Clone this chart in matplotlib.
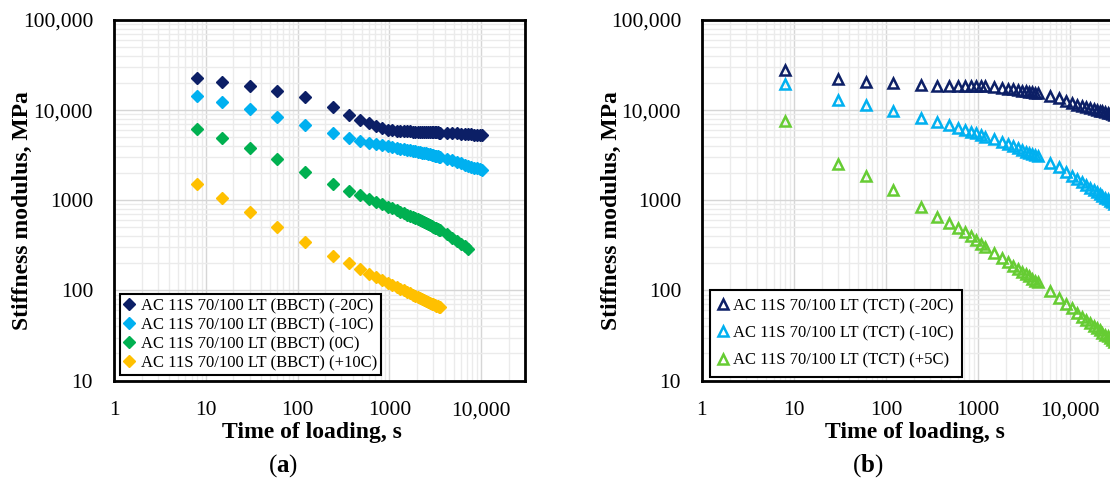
import numpy as np
import matplotlib
matplotlib.use("Agg")
import matplotlib.pyplot as plt
from matplotlib.ticker import FixedLocator, LogLocator, NullFormatter

plt.rcParams['font.family'] = ['Liberation Serif', 'DejaVu Serif']
plt.rcParams['mathtext.fontset'] = 'custom'
plt.rcParams['mathtext.rm'] = 'Liberation Serif'
plt.rcParams['mathtext.bf'] = 'Liberation Serif:bold'

# ---- (a) BBCT data ----
t_bbct = [8, 15, 30, 60, 120, 240, 360, 480, 600, 720, 840, 960, 1080, 1200,
          1320, 1440, 1560, 1680, 1800, 1920, 2040, 2160, 2280, 2400, 2520,
          2640, 2760, 2880, 3000, 3120, 3240, 3360, 3480, 3600, 4200, 4800,
          5400, 6000, 6600, 7200, 7800, 8400, 9000, 9600, 10200]

s_bbct_m20 = [22600, 20600, 18700, 16300, 13900, 10700, 8900, 7800, 7100, 6600,
              6250, 6050, 5950, 5880, 5850, 5820, 5800, 5790, 5780, 5770, 5760,
              5750, 5740, 5730, 5720, 5710, 5700, 5690, 5680, 5670, 5660, 5650,
              5640, 5630, 5600, 5550, 5500, 5460, 5420, 5390, 5360, 5330, 5300,
              5280, 5250]
s_bbct_m10 = [14400, 12300, 10400, 8470, 6850, 5540, 4960, 4590, 4300, 4170,
              4050, 3950, 3870, 3800, 3740, 3680, 3630, 3580, 3540, 3500, 3460,
              3420, 3380, 3340, 3300, 3270, 3230, 3200, 3160, 3130, 3090, 3060,
              3030, 3000, 2880, 2760, 2650, 2560, 2480, 2410, 2350, 2300, 2260,
              2220, 2190]
s_bbct_0 = [6240, 4960, 3780, 2850, 2080, 1520, 1280, 1150, 1030, 960, 900, 850,
            810, 775, 745, 715, 690, 668, 648, 630, 612, 596, 581, 567, 554,
            542, 530, 519, 508, 498, 488, 479, 470, 462, 420, 385, 355, 330,
            308, 290]
s_bbct_p10 = [1500, 1070, 736, 509, 347, 241, 200, 173, 152, 140, 130, 122, 115,
              109, 104, 100, 96, 93, 90, 87, 84.5, 82, 80, 78, 76, 74.5, 73,
              71.5, 70, 69, 67.8, 66.8, 65.8, 65]

labels_bbct = ["AC 11S 70/100 LT (BBCT) (-20C)", "AC 11S 70/100 LT (BBCT) (-10C)",
               "AC 11S 70/100 LT (BBCT) (0C)", "AC 11S 70/100 LT (BBCT) (+10C)"]

# ---- (b) TCT data ----
t_tct = [8, 30, 60, 120, 240, 360, 480, 600, 720, 840, 960, 1080, 1200, 1500,
         1800, 2100, 2400, 2700, 3000, 3300, 3600, 3900, 4200, 4500, 6000, 7500,
         9000, 10500, 12000, 13500, 15000, 16500, 18000, 19500, 21000, 22500,
         24000, 25500, 27000, 28500, 30000]

s_tct_m20 = [27900, 22000, 20700, 19900, 19000, 18500, 18400, 18400, 18400,
             18400, 18350, 18300, 18300, 17900, 17600, 17300, 17000, 16700,
             16400, 16100, 15900, 15700, 15500, 15300, 14400, 13600, 12700,
             12000, 11500, 11100, 10800, 10500, 10250, 10000, 9800, 9650, 9500,
             9350, 9200, 9050, 8900]
s_tct_m10 = [19300, 13000, 11400, 9870, 8130, 7460, 6850, 6400, 6050, 5750, 5500,
             5280, 5080, 4750, 4480, 4230, 4000, 3800, 3620, 3470, 3340, 3230,
             3150, 3080, 2610, 2320, 2080, 1880, 1720, 1590, 1480, 1380, 1300,
             1230, 1170, 1110, 1060, 1020, 980, 945, 910]
s_tct_p5 = [7590, 2510, 1860, 1300, 836, 658, 555, 490, 440, 400, 365, 330, 301,
            258, 228, 205, 188, 174, 161, 151, 143, 135, 128, 123, 99, 82, 71,
            63, 56, 51, 47, 43, 40, 38, 36, 34, 32, 31, 29.5, 28, 27]

labels_tct = ["AC 11S 70/100 LT (TCT) (-20C)", "AC 11S 70/100 LT (TCT) (-10C)",
              "AC 11S 70/100 LT (TCT) (+5C)"]

x_ticks = [1, 10, 100, 1000, 10000]
x_ticklabels = ["1", "10", "100", "1000", "10,000"]
y_ticks = [10, 100, 1000, 10000, 100000]
y_ticklabels = ["10", "100", "1000", "10,000", "100,000"]

navy = "#0c1f66"
sky = "#00b0f0"
green = "#00b050"
gold = "#ffc000"
lime = "#66cc33"


def style_axes(ax):
    ax.set_xscale("log")
    ax.set_yscale("log")
    ax.set_xlim(1, 30000)
    ax.set_ylim(10, 100000)
    ax.xaxis.set_major_locator(FixedLocator(x_ticks))
    ax.set_xticklabels(x_ticklabels)
    ax.yaxis.set_major_locator(FixedLocator(y_ticks))
    ax.set_yticklabels(y_ticklabels)
    ax.xaxis.set_minor_locator(LogLocator(base=10, subs=np.arange(2, 10)))
    ax.yaxis.set_minor_locator(LogLocator(base=10, subs=np.arange(2, 10)))
    ax.xaxis.set_minor_formatter(NullFormatter())
    ax.yaxis.set_minor_formatter(NullFormatter())
    ax.tick_params(which="both", length=0, labelsize=15.5)
    ax.tick_params(axis="x", pad=15)
    ax.tick_params(axis="y", pad=15)
    ax.grid(which="major", color="#d6d6d6", lw=1.0)
    ax.grid(which="minor", color="#ebebeb", lw=1.0)
    ax.set_axisbelow(True)
    for sp in ax.spines.values():
        sp.set_linewidth(2.0)
        sp.set_color("black")


fig = plt.figure(figsize=(11.1, 4.86), dpi=100)

# (a)
ax1 = fig.add_axes([0.1027, 0.217, 0.3703, 0.742])
style_axes(ax1)
for y, c, lab in zip([s_bbct_m20, s_bbct_m10, s_bbct_0, s_bbct_p10],
                     [navy, sky, green, gold], labels_bbct):
    ax1.plot(t_bbct[:len(y)], y, ls="none", marker="D", ms=6, color=c,
             mec=c, label=lab)
leg1 = ax1.legend(loc="lower left", bbox_to_anchor=(0.014, 0.014),
                  borderaxespad=0, fontsize=12, handlelength=0.6,
                  handletextpad=0.4, labelspacing=0.18, borderpad=0.25,
                  fancybox=False, framealpha=1, edgecolor="black")
leg1.get_frame().set_linewidth(1.5)

# (b) - right panel runs past the figure edge, as in the source image
ax2 = fig.add_axes([0.6324, 0.217, 0.3712, 0.742])
style_axes(ax2)
for y, c, lab in zip([s_tct_m20, s_tct_m10, s_tct_p5],
                     [navy, sky, lime], labels_tct):
    ax2.plot(t_tct, y, ls="none", marker="^", ms=7, mfc="none", mec=c,
             mew=1.8, label=lab)
leg2 = ax2.legend(loc="lower left", bbox_to_anchor=(0.019, 0.01),
                  borderaxespad=0, fontsize=12, handlelength=0.6,
                  handletextpad=0.3, labelspacing=0.68, borderpad=0.5,
                  fancybox=False, framealpha=1, edgecolor="black")
leg2.get_frame().set_linewidth(1.5)

# axis titles and panel captions
fig.text(0.281, 0.111, "Time of loading, s", fontsize=17, fontweight="bold",
         ha="center", va="center")
fig.text(0.824, 0.111, "Time of loading, s", fontsize=17, fontweight="bold",
         ha="center", va="center")
fig.text(0.020, 0.566, "Stiffness modulus, MPa", fontsize=17, fontweight="bold",
         rotation=90, ha="center", va="center")
fig.text(0.551, 0.566, "Stiffness modulus, MPa", fontsize=17, fontweight="bold",
         rotation=90, ha="center", va="center")
fig.text(0.255, 0.041, r"($\mathbf{a}$)", fontsize=18, ha="center", va="center")
fig.text(0.782, 0.041, r"($\mathbf{b}$)", fontsize=18, ha="center", va="center")

fig.savefig("out.png", dpi=100)
